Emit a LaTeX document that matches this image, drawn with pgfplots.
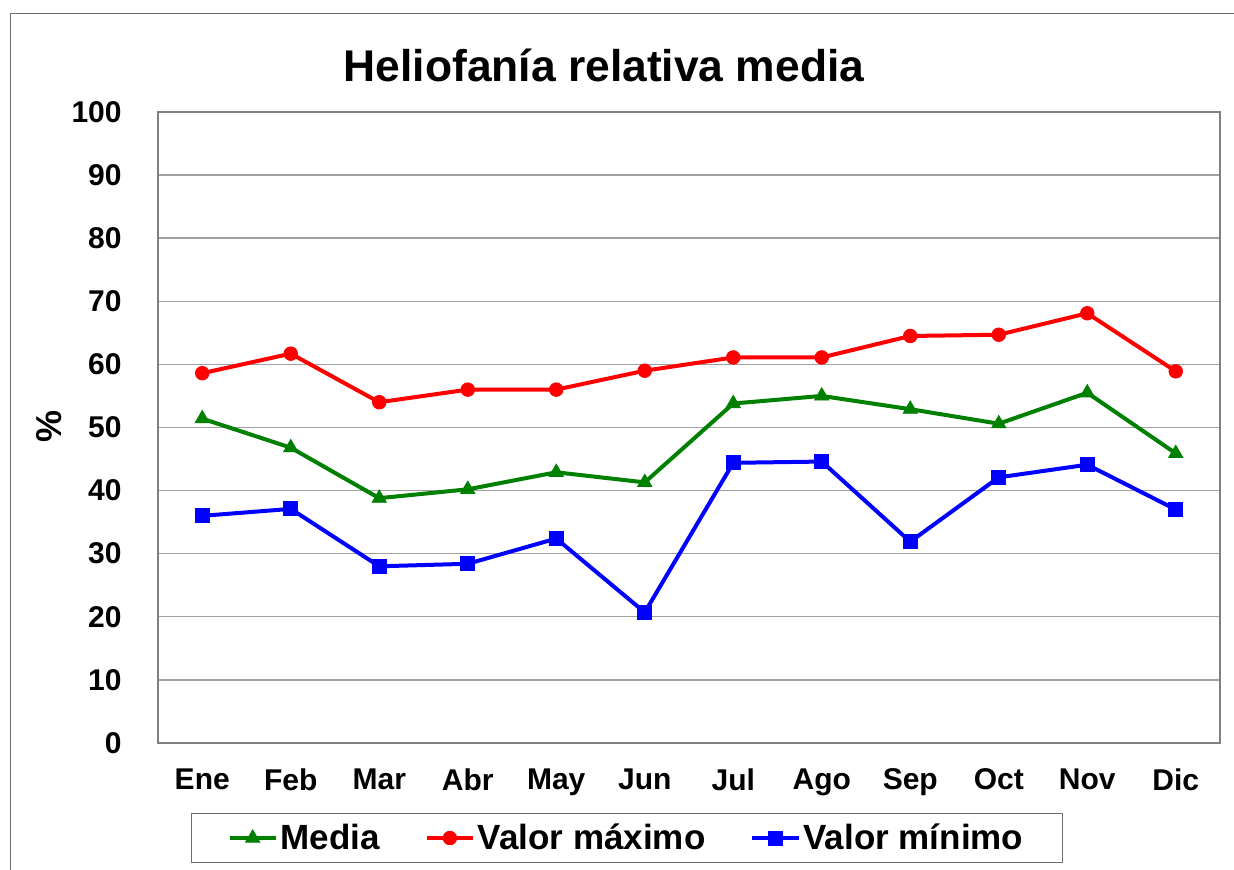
\documentclass[border=0pt]{standalone}
\usepackage{pgfplots}
\pgfplotsset{compat=1.18}
\usepackage{fontspec}
\setmainfont{Liberation Sans}
\definecolor{cgreen}{RGB}{0,128,0}
\definecolor{cred}{RGB}{255,0,0}
\definecolor{cblue}{RGB}{0,0,255}
\definecolor{frame}{RGB}{110,110,110}
\definecolor{axgray}{RGB}{128,128,128}
\definecolor{gridgray}{RGB}{160,160,160}
\begin{document}
\begin{tikzpicture}
\useasboundingbox (0,0) rectangle (617pt,435pt);
\draw[frame, line width=0.8pt] (5.25pt,-2pt) -- (5.25pt,428.25pt) -- (620pt,428.25pt);
\begin{axis}[
  at={(79pt,63.5pt)}, anchor=south west,
  scale only axis, width=531pt, height=315.5pt,
  xmin=-0.5, xmax=11.5, ymin=0, ymax=100,
  xtick={0,...,11},
  xticklabels={Ene,Feb,Mar,Abr,May,Jun,Jul,Ago,Sep,Oct,Nov,Dic},
  ytick={0,10,...,100},
  /pgf/number format/assume math mode=true,
  major tick length=0pt,
  ymajorgrids,
  grid style={gridgray, line width=0.7pt},
  axis line style={axgray, line width=1pt},
  ticklabel style={font=\fontsize{15}{18}\selectfont\bfseries},
  yticklabel style={anchor=east, inner sep=0pt, xshift=-18pt},
  xticklabel style={anchor=north, inner sep=0pt, yshift=-12.5pt},
  legend columns=3,
  legend style={at={(0.4416,-0.1506)}, anchor=center,
    draw=frame, line width=0.6pt,
    font=\fontsize{17.5}{20}\selectfont\bfseries,
    inner xsep=18pt, inner ysep=3pt,
    /tikz/every even column/.append style={column sep=21pt},
    nodes={inner xsep=1.5pt}},
  legend image code/.code={\draw[mark repeat=2,mark phase=2] plot coordinates {(0pt,0pt) (11.5pt,0pt) (23pt,0pt)};},
]
\addplot[cgreen, line width=2pt, mark=triangle*, mark size=4.1pt, mark options={line width=0.4pt}]
  coordinates {(0,51.4) (1,46.8) (2,38.8) (3,40.2) (4,42.9) (5,41.3) (6,53.8) (7,55.0) (8,52.9) (9,50.6) (10,55.5) (11,45.9)};
\addlegendentry{Media}
\addplot[cred, line width=2pt, mark=*, mark size=3.4pt, mark options={line width=0.4pt}]
  coordinates {(0,58.6) (1,61.7) (2,54.0) (3,56.0) (4,56.0) (5,59.0) (6,61.1) (7,61.1) (8,64.5) (9,64.7) (10,68.1) (11,58.9)};
\addlegendentry{Valor máximo}
\addplot[cblue, line width=2pt, mark=square*, mark size=3.5pt, mark options={line width=0.4pt}]
  coordinates {(0,36.0) (1,37.1) (2,28.0) (3,28.4) (4,32.4) (5,20.7) (6,44.4) (7,44.6) (8,31.9) (9,42.1) (10,44.1) (11,37.0)};
\addlegendentry{Valor mínimo}
\end{axis}
\node[anchor=base, inner sep=0pt, font=\fontsize{22.2}{26}\selectfont\bfseries] at (302pt,394pt) {Heliofanía relativa media};
\node[rotate=90, inner sep=0pt, font=\fontsize{18}{20}\selectfont\bfseries] at (24.5pt,221.5pt) {\%};
\end{tikzpicture}
\end{document}
